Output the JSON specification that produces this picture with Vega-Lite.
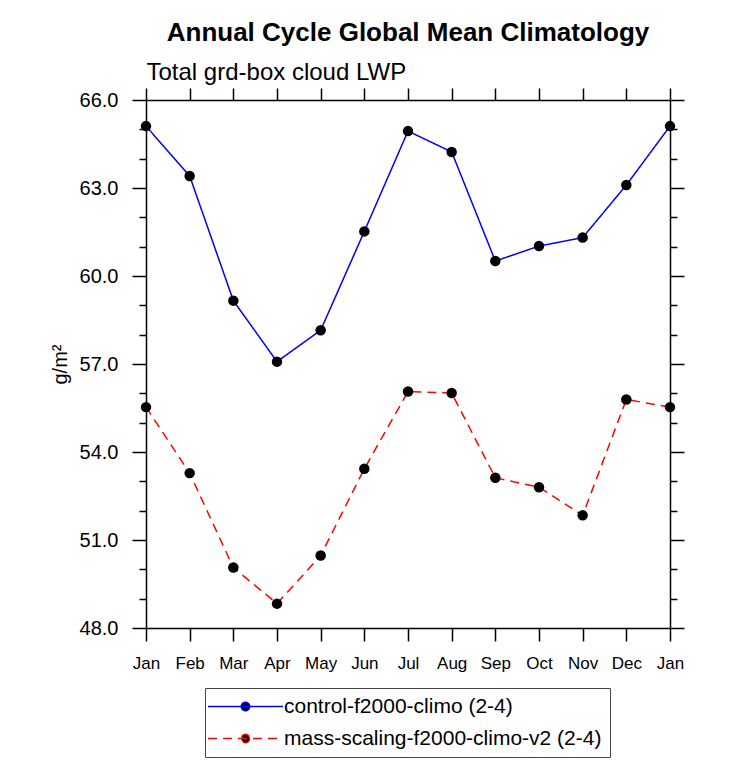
{
  "$schema": "https://vega.github.io/schema/vega-lite/v6.json",
  "width": 524,
  "height": 528,
  "autosize": {"type": "none"},
  "padding": {"left": 146, "top": 100, "right": 62, "bottom": 135},
  "background": "white",
  "title": {
    "text": "Annual Cycle Global Mean Climatology",
    "font": "Liberation Sans",
    "fontSize": 26,
    "fontWeight": "bold",
    "color": "black",
    "anchor": "middle",
    "offset": 14
  },
  "config": {
    "font": "Liberation Sans",
    "view": {"stroke": null},
    "axis": {
      "domainColor": "black",
      "domainWidth": 1.5,
      "tickColor": "black",
      "tickWidth": 1.5,
      "labelColor": "black",
      "titleColor": "black",
      "labelFont": "Liberation Sans",
      "titleFont": "Liberation Sans",
      "grid": false
    },
    "legend": {
      "labelFont": "Liberation Sans"
    }
  },
  "data": {
    "values": [
      {"m": 0, "series": "control-f2000-climo (2-4)", "value": 65.11},
      {"m": 1, "series": "control-f2000-climo (2-4)", "value": 63.41},
      {"m": 2, "series": "control-f2000-climo (2-4)", "value": 59.16},
      {"m": 3, "series": "control-f2000-climo (2-4)", "value": 57.08},
      {"m": 4, "series": "control-f2000-climo (2-4)", "value": 58.15},
      {"m": 5, "series": "control-f2000-climo (2-4)", "value": 61.52},
      {"m": 6, "series": "control-f2000-climo (2-4)", "value": 64.94},
      {"m": 7, "series": "control-f2000-climo (2-4)", "value": 64.23},
      {"m": 8, "series": "control-f2000-climo (2-4)", "value": 60.51},
      {"m": 9, "series": "control-f2000-climo (2-4)", "value": 61.02},
      {"m": 10, "series": "control-f2000-climo (2-4)", "value": 61.31},
      {"m": 11, "series": "control-f2000-climo (2-4)", "value": 63.10},
      {"m": 12, "series": "control-f2000-climo (2-4)", "value": 65.11},
      {"m": 0, "series": "mass-scaling-f2000-climo-v2 (2-4)", "value": 55.53},
      {"m": 1, "series": "mass-scaling-f2000-climo-v2 (2-4)", "value": 53.28},
      {"m": 2, "series": "mass-scaling-f2000-climo-v2 (2-4)", "value": 50.06},
      {"m": 3, "series": "mass-scaling-f2000-climo-v2 (2-4)", "value": 48.83},
      {"m": 4, "series": "mass-scaling-f2000-climo-v2 (2-4)", "value": 50.47},
      {"m": 5, "series": "mass-scaling-f2000-climo-v2 (2-4)", "value": 53.43},
      {"m": 6, "series": "mass-scaling-f2000-climo-v2 (2-4)", "value": 56.06},
      {"m": 7, "series": "mass-scaling-f2000-climo-v2 (2-4)", "value": 56.01},
      {"m": 8, "series": "mass-scaling-f2000-climo-v2 (2-4)", "value": 53.12},
      {"m": 9, "series": "mass-scaling-f2000-climo-v2 (2-4)", "value": 52.80},
      {"m": 10, "series": "mass-scaling-f2000-climo-v2 (2-4)", "value": 51.84},
      {"m": 11, "series": "mass-scaling-f2000-climo-v2 (2-4)", "value": 55.79},
      {"m": 12, "series": "mass-scaling-f2000-climo-v2 (2-4)", "value": 55.53}
    ]
  },
  "layer": [
    {
      "mark": {"type": "line", "strokeWidth": 1.5},
      "encoding": {
        "x": {
          "field": "m",
          "type": "quantitative",
          "scale": {"domain": [0, 12], "nice": false, "zero": false},
          "axis": {
            "orient": "bottom",
            "title": null,
            "values": [0, 1, 2, 3, 4, 5, 6, 7, 8, 9, 10, 11, 12],
            "labelExpr": "['Jan','Feb','Mar','Apr','May','Jun','Jul','Aug','Sep','Oct','Nov','Dec','Jan'][datum.value]",
            "tickSize": 13,
            "labelPadding": 14,
            "labelFontSize": 17,
            "labelFlush": false,
            "labelOverlap": false
          }
        },
        "y": {
          "field": "value",
          "type": "quantitative",
          "scale": {"domain": [48, 66], "nice": false, "zero": false},
          "axis": {
            "orient": "left",
            "title": "g/m²",
            "titleFontSize": 20,
            "titleFontWeight": "normal",
            "titlePadding": 9,
            "values": [48, 49, 50, 51, 52, 53, 54, 55, 56, 57, 58, 59, 60, 61, 62, 63, 64, 65, 66],
            "labelExpr": "datum.value % 3 === 0 ? format(datum.value, '.1f') : ''",
            "tickSize": {"condition": {"test": "datum.value % 3 === 0", "value": 14}, "value": 7},
            "labelPadding": 14,
            "labelFontSize": 20,
            "labelFlush": false,
            "labelOverlap": false
          }
        },
        "color": {
          "field": "series",
          "type": "nominal",
          "scale": {"range": ["#0000ff", "#ff0000"]},
          "legend": {
            "title": null,
            "orient": "none",
            "legendX": 59,
            "legendY": 588,
            "direction": "vertical",
            "strokeColor": "#444444",
            "padding": 8,
            "labelFontSize": 21,
            "labelColor": "black",
            "labelLimit": 500,
            "symbolType": "M-4,0H4M0.45,0A0.45,0.45 0 1 1 -0.45,0A0.45,0.45 0 1 1 0.45,0",
            "symbolSize": 352,
            "symbolStrokeWidth": 1.5,
            "symbolOffset": 22,
            "labelOffset": 28,
            "rowPadding": 10,
            "symbolFillColor": "black",
            "encode": {"symbols": {"update": {"fill": {"value": "black"}, "fillOpacity": {"value": 1}}}}
          }
        },
        "strokeDash": {
          "field": "series",
          "type": "nominal",
          "scale": {"range": [[1, 0], [9, 6]]},
          "legend": {
            "title": null,
            "orient": "none",
            "legendX": 59,
            "legendY": 588,
            "direction": "vertical",
            "strokeColor": "#444444",
            "padding": 8,
            "labelFontSize": 21,
            "labelColor": "black",
            "labelLimit": 500,
            "symbolType": "M-4,0H4M0.45,0A0.45,0.45 0 1 1 -0.45,0A0.45,0.45 0 1 1 0.45,0",
            "symbolSize": 352,
            "symbolStrokeWidth": 1.5,
            "symbolOffset": 22,
            "labelOffset": 28,
            "rowPadding": 10,
            "symbolFillColor": "black",
            "encode": {"symbols": {"update": {"fill": {"value": "black"}, "fillOpacity": {"value": 1}}}}
          }
        }
      }
    },
    {
      "mark": {"type": "point", "filled": true, "size": 110, "color": "black", "opacity": 1},
      "encoding": {
        "x": {
          "field": "m",
          "type": "quantitative",
          "axis": {
            "orient": "top",
            "values": [0, 1, 2, 3, 4, 5, 6, 7, 8, 9, 10, 11, 12],
            "labels": false,
            "tickSize": 12,
            "title": "Total grd-box cloud LWP",
            "titleAnchor": "start",
            "titleAlign": "left",
            "titleFontSize": 24,
            "titleFontWeight": "normal",
            "titlePadding": 3
          }
        },
        "y": {
          "field": "value",
          "type": "quantitative",
          "axis": {
            "orient": "right",
            "title": null,
            "labels": false,
            "values": [48, 49, 50, 51, 52, 53, 54, 55, 56, 57, 58, 59, 60, 61, 62, 63, 64, 65, 66],
            "tickSize": {"condition": {"test": "datum.value % 3 === 0", "value": 14}, "value": 7}
          }
        }
      }
    }
  ],
  "resolve": {"axis": {"x": "independent", "y": "independent"}}
}
